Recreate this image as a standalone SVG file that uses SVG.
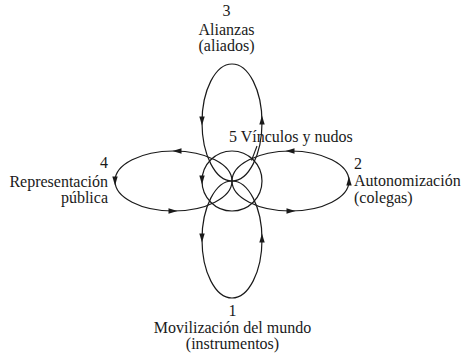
<svg xmlns="http://www.w3.org/2000/svg" xmlns:xlink="http://www.w3.org/1999/xlink" width="462" height="358" viewBox="0 0 462 358">
<style>
.loop{fill:none;stroke:#1a1a1a;stroke-width:1.2}
.lead{fill:none;stroke:#1a1a1a;stroke-width:1.1}
.ah{fill:#1a1a1a}
.t{font-size:16px;fill:#1a1a1a}
.m{text-anchor:middle}
.e{text-anchor:end}
</style>
<defs>
<path id="arr" class="ah" d="M4.5,0 L-4.5,-2.7 L-4.5,2.7 Z"/>
</defs>
<rect width="462" height="358" fill="#fff"/>
<g id="node1">
<ellipse class="loop" cx="232" cy="239.5" rx="30" ry="58.5"/>
<use xlink:href="#arr" transform="translate(202,238) rotate(90)"/>
<use xlink:href="#arr" transform="translate(262,238) rotate(-90)"/>
<g font-family="Liberation Serif, Tinos, DejaVu Serif, serif">
<text class="t m" x="232.5" y="315.5">1</text>
<text class="t m" x="232.5" y="332.5">Movilización del mundo</text>
<text class="t m" x="232.5" y="348.5">(instrumentos)</text>
</g>
</g>
<g id="node2">
<ellipse class="loop" cx="290.5" cy="181" rx="58.5" ry="30"/>
<use xlink:href="#arr" transform="translate(290,151) rotate(180)"/>
<use xlink:href="#arr" transform="translate(291,211)"/>
<use xlink:href="#arr" transform="translate(349,181) rotate(-90)"/>
<g font-family="Liberation Serif, Tinos, DejaVu Serif, serif">
<text class="t" x="354" y="168.5">2</text>
<text class="t" x="354" y="186">Autonomización</text>
<text class="t" x="354" y="202.5">(colegas)</text>
</g>
</g>
<g id="node3">
<ellipse class="loop" cx="232" cy="122.5" rx="30" ry="58.5"/>
<use xlink:href="#arr" transform="translate(202,121) rotate(90)"/>
<use xlink:href="#arr" transform="translate(262,120) rotate(-90)"/>
<g font-family="Liberation Serif, Tinos, DejaVu Serif, serif">
<text class="t m" x="226.5" y="16">3</text>
<text class="t m" x="226.5" y="34.5">Alianzas</text>
<text class="t m" x="226.5" y="51">(aliados)</text>
</g>
</g>
<g id="node4">
<ellipse class="loop" cx="173.5" cy="181" rx="58.5" ry="30"/>
<use xlink:href="#arr" transform="translate(177,151) rotate(180)"/>
<use xlink:href="#arr" transform="translate(173,211)"/>
<use xlink:href="#arr" transform="translate(115,181) rotate(90)"/>
<g font-family="Liberation Serif, Tinos, DejaVu Serif, serif">
<text class="t e" x="108" y="168">4</text>
<text class="t e" x="108" y="186.5">Representación</text>
<text class="t e" x="108" y="203">pública</text>
</g>
</g>
<g id="node5">
<circle class="loop" cx="232" cy="181" r="30"/>
<use xlink:href="#arr" transform="translate(202,180) rotate(90)"/>
<text class="t" font-family="Liberation Serif, Tinos, DejaVu Serif, serif" x="229" y="142">5 Vínculos y nudos</text>
</g>
<g id="connectors">
<line class="lead" x1="257" y1="146" x2="251.5" y2="160.5"/>
</g>
</svg>
